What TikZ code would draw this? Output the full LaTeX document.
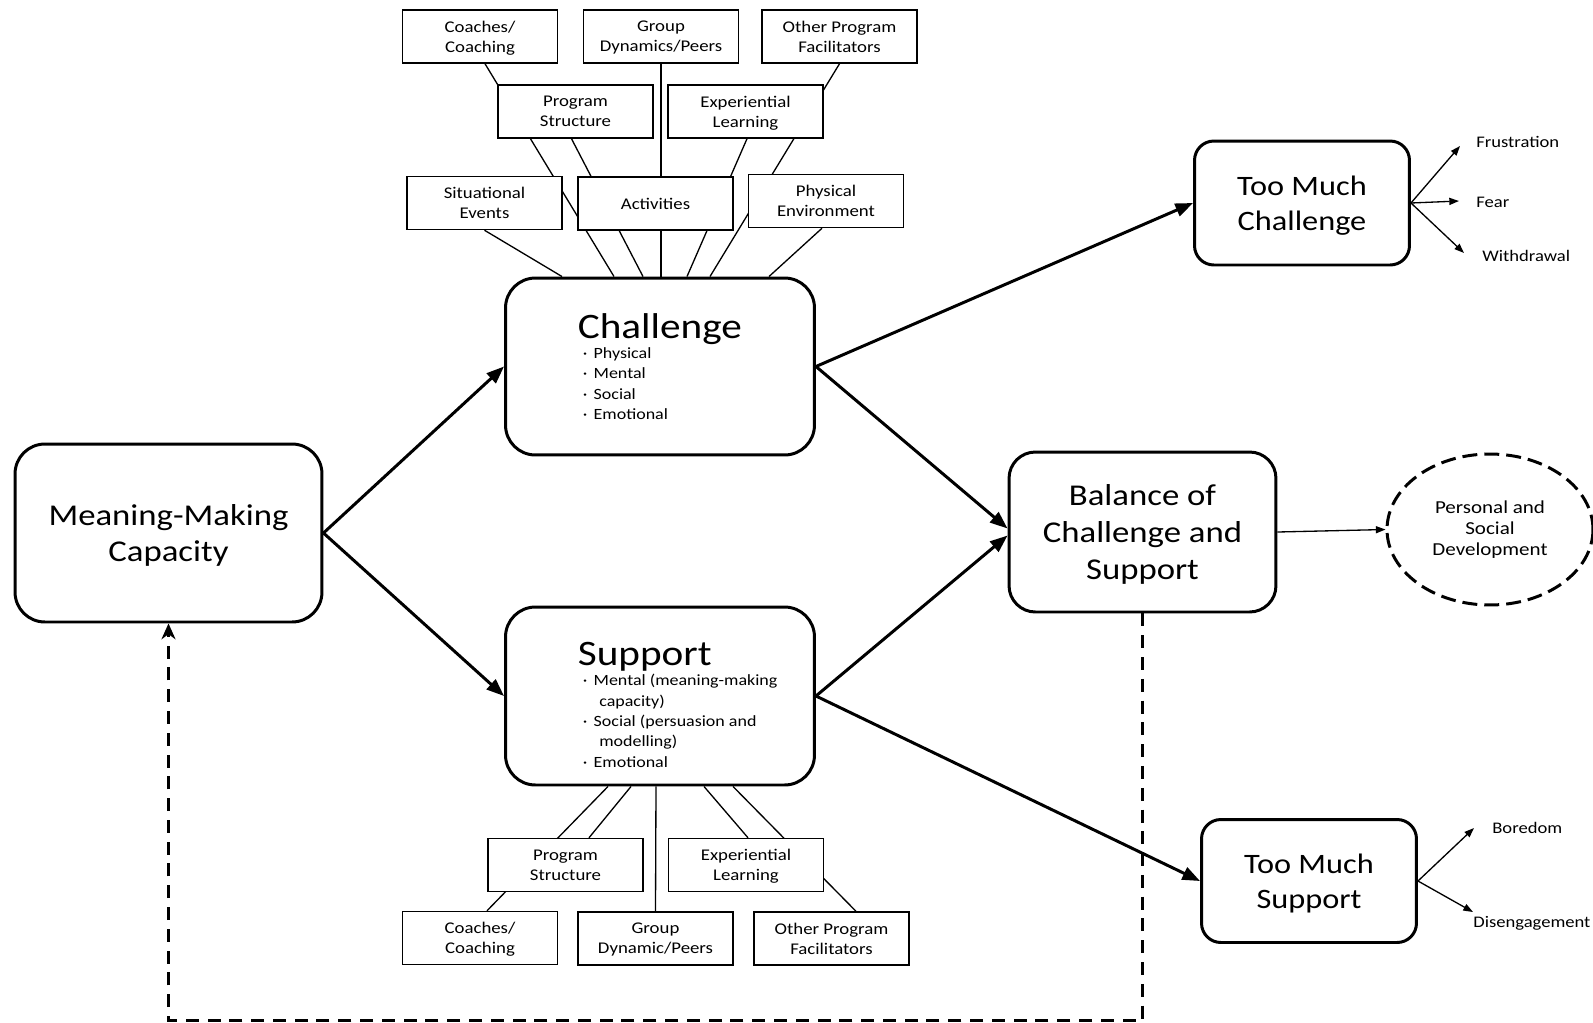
\documentclass[tikz,border=0pt]{standalone}
\usepackage{fontspec}
\setmainfont{Carlito}[FakeStretch=1.15]
\usetikzlibrary{arrows.meta, positioning, shapes.geometric, backgrounds, calc}

\newcommand{\bul}[1]{\hspace*{2.8pt}\makebox[6.2pt][l]{·}#1}

\begin{document}
\begin{tikzpicture}[x=0.02cm, y=-0.02cm,
            % Main rounded boxes
            bigbox/.style={draw, rounded corners=17pt, line width=1.7pt, fill=white,
                    align=center, inner sep=0pt},
            % Influence boxes
            factor/.style={draw, line width=0.85pt, fill=white,
                    minimum width=3.1cm, minimum height=1.06cm,
                    align=center, inner sep=0pt, text depth=-1.5pt,
                    font=\fontsize{9.3}{11.3}\selectfont},
            % Main flow arrow
            arr/.style={-{Triangle[length=10pt, width=7.5pt]}, line width=1.7pt},
            % Small arrow
            tarr/.style={-{Triangle[length=5.5pt, width=4pt]}, line width=0.75pt},
            conn/.style={line width=0.75pt},
            feedback/.style={-{Stealth[length=9pt, width=8pt]}, line width=1.7pt,
                    dash pattern=on 7.4pt off 5pt},
            outcome/.style={anchor=west, inner sep=0pt,
                    font=\fontsize{9.2}{11}\selectfont},
            bigtext/.style={text depth=-1.2pt,
                    font=\fontsize{17.2}{21}\selectfont},
            tmtext/.style={text depth=-1.2pt,
                    font=\fontsize{16}{19.8}\selectfont}
        ]

        \useasboundingbox (0,0) rectangle (1593,1022);

        % Meaning-making capacity
        \node[bigbox, bigtext, minimum width=6.14cm, minimum height=3.56cm] (mmc) at (168.5,533)
            {Meaning-Making\\Capacity};

        % Challenge
        \node[bigbox, minimum width=6.18cm, minimum height=3.54cm] (chal) at (660,366.5)
            {\makebox[93.5pt][l]{\begin{minipage}{130pt}
                {\fontsize{20.4}{22}\selectfont Challenge\par}
                \fontsize{8.9}{11.6}\selectfont
                \bul{Physical}\\
                \bul{Mental}\\
                \bul{Social}\\
                \bul{Emotional}
            \end{minipage}}};

        % Support
        \node[bigbox, minimum width=6.18cm, minimum height=3.56cm] (supp) at (660,696)
            {\makebox[93.5pt][l]{\begin{minipage}{130pt}
                \vspace*{10pt}
                {\fontsize{20.4}{22}\selectfont Support\par}
                \fontsize{8.9}{11.6}\selectfont
                \bul{Mental (meaning-making}\\
                \hspace*{12.2pt}capacity)\\
                \bul{Social (persuasion and}\\
                \hspace*{12.2pt}modelling)\\
                \bul{Emotional}
            \end{minipage}}};

        % Balance
        \node[bigbox, bigtext, rounded corners=15pt, minimum width=5.34cm, minimum height=3.2cm]
            (bal) at (1142.5,532) {Balance of\\Challenge and\\Support};

        % Too much ...
        \node[bigbox, tmtext, rounded corners=11pt, minimum width=4.3cm, minimum height=2.48cm]
            (tmc) at (1302,203) {Too Much\\Challenge};
        \node[bigbox, tmtext, rounded corners=11pt, minimum width=4.3cm, minimum height=2.46cm]
            (tms) at (1309,881) {Too Much\\Support};

        % Development
        \node[draw, ellipse, line width=1.7pt, dash pattern=on 8.5pt off 4pt,
              minimum width=4.12cm, minimum height=3.02cm, inner sep=0pt, align=center,
              font=\fontsize{10.4}{12}\selectfont] (psd) at (1490,529.5)
            {Personal and\\Social\\Development};

        % Influences on challenge
        \node[factor] (coT) at (480,36.5) {Coaches/\\Coaching};
        \node[factor] (gdT) at (661,36.5) {Group\\Dynamics/Peers};
        \node[factor] (opT) at (839.5,36.5) {Other Program\\Facilitators};
        \node[factor] (psT) at (575.5,111.5) {Program\\Structure};
        \node[factor] (elT) at (745.5,111.5) {Experiential\\Learning};
        \node[factor] (seT) at (484.5,203) {Situational\\Events};
        \node[factor] (acT) at (655.5,203.5) {Activities};
        \node[factor] (peT) at (826,201) {Physical\\Environment};

        % Influences on support
        \node[factor] (psB) at (565.5,865) {Program\\Structure};
        \node[factor] (elB) at (746,865) {Experiential\\Learning};
        \node[factor] (coB) at (480,938) {Coaches/\\Coaching};
        \node[factor] (gdB) at (655.5,938.5) {Group\\Dynamic/Peers};
        \node[factor] (opB) at (831.5,938.5) {Other Program\\Facilitators};

        \begin{scope}[on background layer]
            \draw[conn] ($(coT.south)+(5,0)$) -- ($(chal.north)+(-46,0)$);
            \draw[conn] ($(psT.south)+(-4,0)$) -- ($(chal.north)+(-17,0)$);
            \draw[conn] (gdT.south) -- ($(chal.north)+(1,0)$);
            \draw[conn] ($(acT.south)+(5.5,0)$) -- ($(chal.north)+(1,0)$);
            \draw[conn] ($(elT.south)+(1.5,0)$) -- ($(chal.north)+(27,0)$);
            \draw[conn] (opT.south) -- ($(chal.north)+(50,0)$);
            \draw[conn] (seT.south) -- ($(chal.north)+(-98,0)$);
            \draw[conn] ($(peT.south)+(-4,0)$) -- ($(chal.north)+(109,0)$);

            \draw[conn] ($(supp.south)+(-52,0)$) -- ($(coB.north)+(7,0)$);
            \draw[conn] ($(supp.south)+(-29,0)$) -- ($(psB.north)+(23.5,0)$);
            \draw[conn] ($(supp.south)+(-4,0)$) -- (gdB.north);
            \draw[conn] ($(supp.south)+(44,0)$) -- ($(elB.north)+(2,0)$);
            \draw[conn] ($(supp.south)+(73,0)$) -- ($(opB.north)+(24.5,0)$);
        \end{scope}

        % Outcomes
        \node[outcome] (frus) at (1476,142) {Frustration};
        \node[outcome] (fear) at (1476,202) {Fear};
        \node[outcome] (withd) at (1482,256) {Withdrawal};
        \node[outcome] (bore) at (1492,828) {Boredom};
        \node[outcome] (diseng) at (1473,923) {Disengagement};

        \coordinate (frusTip) at (1460,146);
        \coordinate (fearTip) at (1459,201);
        \coordinate (withdTip) at (1464,253);
        \coordinate (boreTip) at (1474,828);
        \coordinate (disengTip) at (1473,912);

        % Arrows
        \draw[arr] (mmc.east) -- (chal.west);
        \draw[arr] (mmc.east) -- (supp.west);
        \draw[arr] (chal.east) -- (tmc.west);
        \draw[arr] (chal.east) -- ([yshift=2pt]bal.west);
        \draw[arr] (supp.east) -- ([yshift=-2pt]bal.west);
        \draw[arr] (supp.east) -- (tms.west);
        \draw[tarr] (bal.east) -- (psd.west);

        \draw[tarr] (tmc.east) -- (frusTip);
        \draw[tarr] (tmc.east) -- (fearTip);
        \draw[tarr] (tmc.east) -- (withdTip);
        \draw[tarr] (tms.east) -- (boreTip);
        \draw[tarr] (tms.east) -- (disengTip);

        % Feedback loop
        \draw[feedback] (bal.south) -- ++(0,407) -| (mmc.south);

    \end{tikzpicture}
\end{document}
